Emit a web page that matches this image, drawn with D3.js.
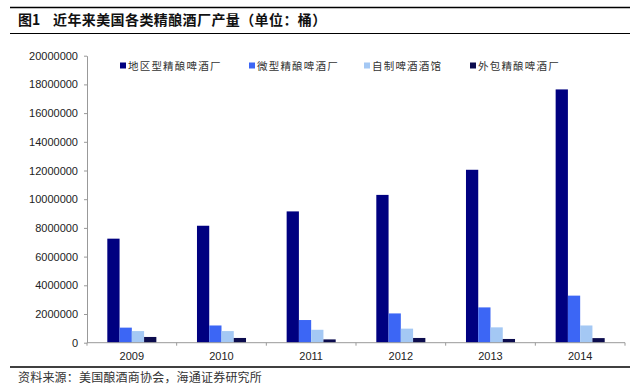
<!DOCTYPE html>
<html>
<head>
<meta charset="utf-8">
<script src="https://cdn.jsdelivr.net/npm/d3@7"></script>
<style>
  html, body { margin: 0; padding: 0; background: #fff; }
  svg { display: block; }
</style>
</head>
<body>
<svg id="chart" width="640" height="390"></svg>
<script>
const years = ["2009", "2010", "2011", "2012", "2013", "2014"];
const seriesNames = ["地区型精酿啤酒厂", "微型精酿啤酒厂", "自制啤酒酒馆", "外包精酿啤酒厂"];
const regional = [7250000, 8150000, 9150000, 10300000, 12050000, 17650000];
const micro = [1050000, 1200000, 1580000, 2040000, 2460000, 3280000];
const brewpub = [810000, 810000, 900000, 980000, 1070000, 1200000];
const contract = [400000, 330000, 230000, 330000, 260000, 320000];
const yTicks = [0, 2000000, 4000000, 6000000, 8000000, 10000000, 12000000, 14000000, 16000000, 18000000, 20000000];
const colors = ["#000080", "#3c66f5", "#a4c8f4", "#0c0c4e"];
const title1 = "图1";
const title2 = "近年来美国各类精酿酒厂产量（单位：桶）";
const source = "资料来源：美国酿酒商协会，海通证券研究所";

const seriesValues = [regional, micro, brewpub, contract];
const svg = d3.select("#chart");

// frame lines
svg.append("line").attr("x1", 10).attr("x2", 630).attr("y1", 7.5).attr("y2", 7.5)
  .attr("stroke", "#000").attr("stroke-width", 1.5);
svg.append("line").attr("x1", 10).attr("x2", 630).attr("y1", 33.5).attr("y2", 33.5)
  .attr("stroke", "#000").attr("stroke-width", 1.2);
svg.append("line").attr("x1", 10).attr("x2", 630).attr("y1", 367).attr("y2", 367)
  .attr("stroke", "#000").attr("stroke-width", 1.5);

svg.append("text").attr("x", 18).attr("y", 25).text(title1)
  .attr("font-family", "Noto Sans CJK SC").attr("font-weight", "bold").attr("font-size", 14).attr("fill", "#111");
svg.append("text").attr("x", 53).attr("y", 25).text(title2)
  .attr("font-family", "Noto Sans CJK SC").attr("font-weight", "bold").attr("font-size", 14)
  .attr("letter-spacing", 0.4).attr("fill", "#111");
svg.append("text").attr("x", 18).attr("y", 382).text(source)
  .attr("font-family", "Noto Sans CJK SC").attr("font-size", 12).attr("letter-spacing", 0.2).attr("fill", "#333");

const plotLeft = 87, plotRight = 625, plotTop = 55.7, plotBottom = 342.7;

const y = d3.scaleLinear().domain([0, 20000000]).range([plotBottom, plotTop]);
const x0 = d3.scaleBand().domain(years).range([plotLeft, plotRight]).paddingInner(0.453).paddingOuter(0.2265);
const x1 = d3.scaleBand().domain(seriesNames).range([0, x0.bandwidth()]).padding(0);

// bars
const groups = svg.append("g").selectAll("g").data(years).join("g")
  .attr("transform", d => `translate(${x0(d)},0)`);
groups.selectAll("rect")
  .data((yr, i) => seriesNames.map((s, k) => ({ s, k, v: seriesValues[k][i] })))
  .join("rect")
  .attr("x", d => x1(d.s))
  .attr("width", x1.bandwidth())
  .attr("y", d => y(d.v))
  .attr("height", d => y(0) - y(d.v))
  .attr("fill", d => colors[d.k]);

// y axis
const yAxis = svg.append("g").attr("transform", `translate(${plotLeft},0)`)
  .call(d3.axisLeft(y).tickValues(yTicks).tickFormat(d3.format("d")).tickSize(3).tickSizeOuter(0).tickPadding(6));
yAxis.select(".domain").attr("stroke", "#999");
yAxis.selectAll(".tick line").attr("stroke", "#999");
yAxis.selectAll("text").attr("font-family", "Liberation Sans, Arial").attr("font-size", 11).attr("fill", "#222");

// x axis
const step = x0.step();
const xg = svg.append("g");
xg.append("line").attr("x1", plotLeft).attr("x2", plotRight).attr("y1", plotBottom).attr("y2", plotBottom).attr("stroke", "#999");
const boundaries = years.map(yr => x0(yr) - x0.paddingOuter() * step).concat([plotRight]);
xg.selectAll(".xt").data(boundaries).join("line")
  .attr("x1", d => d).attr("x2", d => d).attr("y1", plotBottom).attr("y2", plotBottom + 3).attr("stroke", "#999");
xg.selectAll(".xl").data(years).join("text")
  .attr("x", d => x0(d) + x0.bandwidth() / 2).attr("y", 360)
  .attr("text-anchor", "middle").text(d => d)
  .attr("font-family", "Liberation Sans, Arial").attr("font-size", 11).attr("fill", "#222");

// legend
const legendX = [120, 249, 364, 470];
const lg = svg.append("g").selectAll("g").data(seriesNames).join("g")
  .attr("transform", (d, i) => `translate(${legendX[i]},66)`);
lg.append("rect").attr("x", 0).attr("y", -3.5).attr("width", 6).attr("height", 6).attr("fill", (d, i) => colors[i]);
lg.append("text").attr("x", 8).attr("y", 4).text(d => d)
  .attr("font-family", "Noto Sans CJK SC").attr("font-size", 10.5).attr("letter-spacing", 1.2).attr("fill", "#333");
</script>
</body>
</html>
